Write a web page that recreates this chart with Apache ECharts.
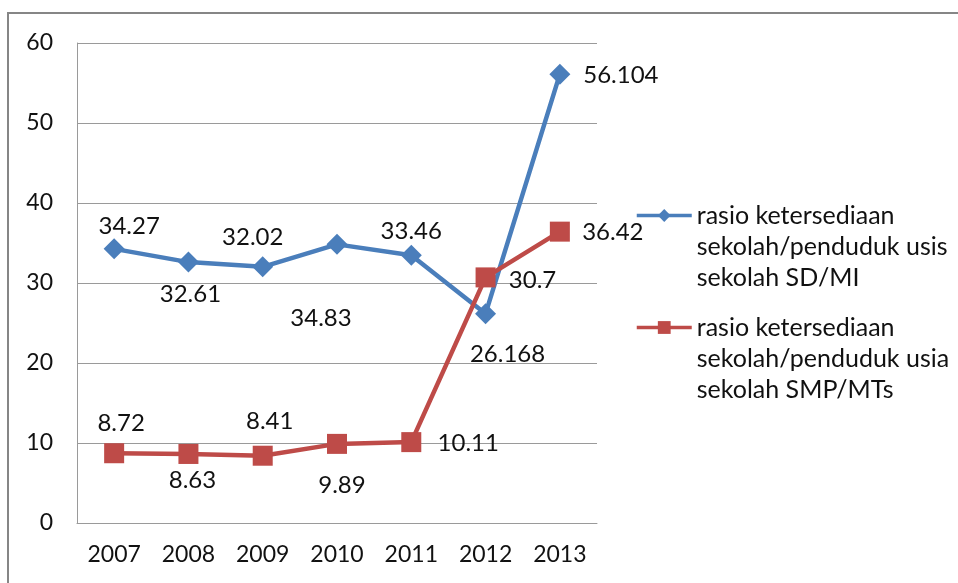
<!DOCTYPE html>
<html>
<head>
<meta charset="utf-8">
<script src="https://cdn.jsdelivr.net/npm/echarts@6/dist/echarts.min.js"></script>
<style>
  html, body { margin: 0; padding: 0; background: #fff; }
  #chart { width: 958px; height: 583px; }
</style>
</head>
<body>
<div id="chart"></div>
<script>
// data
const years = ['2007', '2008', '2009', '2010', '2011', '2012', '2013']
const sdMi = [34.27, 32.61, 32.02, 34.83, 33.46, 26.168, 56.104]
const smpMts = [8.72, 8.63, 8.41, 9.89, 10.11, 30.7, 36.42]
const sdName = '\n\nrasio ketersediaan\nsekolah/penduduk usis\nsekolah SD/MI'
const smpName = '\n\nrasio ketersediaan\nsekolah/penduduk usia\nsekolah SMP/MTs'

// label placement (px offset from each point)
const sdOffsets = [[15, -23], [2, 32], [-10, -30], [-16, 74], [0, -24], [22, 41], [61, 1]]
const smpOffsets = [[7, -30], [4, 26], [7, -34], [5, 41], [57, 1], [47, 3], [53, 1]]

const FONT = 'Lato'
const TXT = '#111'

function withLabels(values, offsets) {
  return values.map((v, i) => ({
    value: v,
    label: {
      show: true,
      position: 'inside',
      offset: offsets[i],
      align: 'center',
      verticalAlign: 'middle'
    }
  }))
}

const myChart = echarts.init(document.getElementById('chart'))

const labelStyle = {
  show: true,
  color: TXT,
  fontFamily: FONT,
  fontSize: 24
}

const legendBase = {
  orient: 'vertical',
  left: 635,
  padding: 0,
  itemWidth: 55,
  itemHeight: 16,
  lineStyle: { width: 3.5 },
  textStyle: { color: TXT, fontFamily: FONT, fontSize: 25, lineHeight: 31 }
}

const option = {
  animation: false,
  backgroundColor: '#fff',
  graphic: [
    {
      type: 'rect',
      shape: { x: 8, y: 13, width: 1000, height: 1000 },
      style: { fill: 'none', stroke: '#868686', lineWidth: 2 },
      silent: true
    }
  ],
  legend: [
    Object.assign({}, legendBase, { top: 138, data: [sdName] }),
    Object.assign({}, legendBase, { top: 250, data: [smpName] })
  ],
  grid: { left: 77, right: 361, top: 43, bottom: 60 },
  xAxis: {
    type: 'category',
    data: years,
    axisLine: { lineStyle: { color: '#9a9a9a', width: 1 } },
    axisTick: { show: false },
    axisLabel: { color: TXT, fontFamily: FONT, fontSize: 23, margin: 20 }
  },
  yAxis: {
    type: 'value',
    min: 0,
    max: 60,
    interval: 10,
    axisLine: { show: true, lineStyle: { color: '#9a9a9a', width: 1 } },
    axisTick: { show: false },
    splitLine: { lineStyle: { color: '#9a9a9a', width: 1 } },
    axisLabel: { color: TXT, fontFamily: FONT, fontSize: 23, margin: 24 }
  },
  series: [
    {
      name: sdName,
      type: 'line',
      data: withLabels(sdMi, sdOffsets),
      symbol: 'diamond',
      symbolSize: 21,
      color: '#4a7ebb',
      lineStyle: { width: 4.5, color: '#4a7ebb' },
      itemStyle: { color: '#4a7ebb' },
      label: labelStyle
    },
    {
      name: smpName,
      type: 'line',
      data: withLabels(smpMts, smpOffsets),
      symbol: 'rect',
      symbolSize: 20,
      color: '#be4b48',
      lineStyle: { width: 4.5, color: '#be4b48' },
      itemStyle: { color: '#be4b48' },
      label: labelStyle
    }
  ]
}

myChart.setOption(option)
</script>
</body>
</html>
